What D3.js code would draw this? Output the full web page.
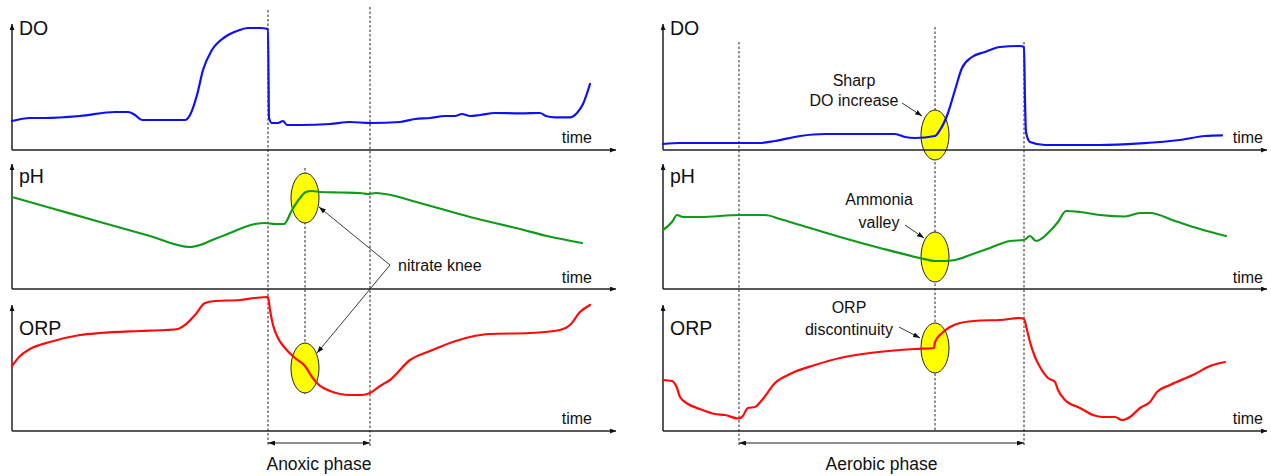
<!DOCTYPE html>
<html><head><meta charset="utf-8">
<script src="https://cdn.jsdelivr.net/npm/d3@7"></script>
<style>body{margin:0;background:#fff}svg{display:block}text{font-family:"Liberation Sans",Arial,sans-serif;fill:#111}</style>
</head><body>
<svg id="c" width="1271" height="476"></svg>
<script>
// ---- data: [time (min), value] ----
const anoxicDO = [[0,1.45],[9,1.6],[16.5,1.6],[34,1.7],[51.5,1.9],[58,1.9],[61.5,1.75],[65,1.5],[74,1.5],[86.5,1.5],[89,1.75],[92.5,2.75],[95.5,4.0],[100,5.0],[106.5,5.65],[112.5,5.95],[118,6.1],[124,6.1],[128,6.05],[128.5,1.6],[130,1.35],[133,1.35],[135.5,1.45],[137.5,1.25],[144,1.25],[159,1.3],[169,1.4],[179,1.35],[194,1.4],[201.5,1.55],[209,1.6],[216.5,1.7],[221.5,1.7],[225,1.8],[229,1.7],[234,1.75],[241.5,1.85],[254,1.83],[264,1.85],[267,1.7],[271.5,1.63],[279,1.63],[282.5,1.85],[285.5,2.3],[289,3.3]];
const anoxicPH = [[0,7.42],[22,7.295],[44,7.17],[69,7.03],[89,6.92],[94,6.94],[99,6.98],[109,7.06],[121.5,7.15],[126.5,7.16],[131.5,7.15],[136,7.15],[140,7.29],[144,7.41],[147,7.47],[150,7.48],[154,7.47],[164,7.465],[174,7.46],[178,7.45],[182,7.46],[186.5,7.45],[204,7.36],[229,7.22],[254,7.1],[267.5,7.03],[285,6.96]];
const anoxicORP = [[0,25],[4,75],[9,110],[19,145],[34,180],[44,190],[64,200],[76.5,205],[83,210],[86.5,230],[91.5,280],[96.5,340],[101.5,350],[114,355],[121.5,365],[128,370],[129,305],[130.5,230],[133,165],[136.5,115],[141.5,65],[146.5,25],[150,-30],[153,-65],[159,-100],[169,-120],[175,-120],[179,-110],[184,-75],[189,-45],[199,55],[209,100],[219,140],[229,170],[239,185],[259,190],[274,205],[279,230],[284,295],[289,330]];
const aerobicDO = [[0,0.3],[8.5,0.35],[18.5,0.35],[48.5,0.35],[56,0.45],[68.5,0.7],[81,0.8],[93.5,0.8],[116,0.8],[121,0.65],[126,0.6],[136,0.7],[138.5,1.0],[142.5,1.85],[146,3.0],[149.5,4.1],[154.5,4.65],[161,4.9],[168.5,5.15],[178.5,5.2],[180.5,5.15],[181,2.5],[181.5,0.9],[183.5,0.4],[191,0.25],[218.5,0.25],[238.5,0.33],[258.5,0.5],[271,0.7],[279.5,0.73]];
const aerobicPH = [[0,7.09],[4.5,7.17],[7,7.24],[10,7.22],[18.5,7.22],[38.5,7.24],[51,7.24],[58.5,7.2],[68.5,7.14],[88.5,7.02],[108.5,6.91],[128.5,6.81],[136,6.78],[141,6.78],[146,6.79],[153.5,6.84],[163.5,6.91],[173.5,6.98],[180.5,6.99],[183.5,7.03],[186.5,6.98],[193.5,7.08],[197.5,7.17],[201.5,7.28],[208.5,7.27],[218.5,7.24],[231,7.225],[238.5,7.26],[243.5,7.26],[256,7.18],[268.5,7.1],[281.5,7.03]];
const aerobicORP = [[0,-45],[4.5,-50],[7,-85],[8.5,-130],[12.5,-165],[18.5,-190],[26,-215],[31,-220],[37.5,-237.5],[39.5,-230],[42.5,-185],[46,-180],[49.5,-145],[56,-60],[63.5,-15],[76,30],[88.5,65],[103.5,90],[118.5,105],[126,110],[135.5,115],[136,145],[139.5,190],[143.5,220],[148.5,240],[158.5,252.5],[168.5,255],[178.5,265],[180.5,260],[182,205],[183.5,145],[186,70],[188.5,20],[192.5,-35],[196,-55],[197.5,-95],[201,-145],[208.5,-185],[215,-220],[220,-230],[226,-230],[229.5,-245],[233.5,-230],[238.5,-185],[243.5,-155],[247,-105],[253.5,-70],[266,-15],[273.5,25],[281,45]];
// phase boundaries and markers (time, min)
const anoxicPhase = [128, 179];
const anoxicKnee = 146.5;
const aerobicPhase = [38, 180.5];
const aerobicMark = 136;
// highlighted points
const anoxicKneePH = 7.41, anoxicKneeORP = 15;
const aerobicMarkDO = 0.75, aerobicMarkPH = 6.82, aerobicMarkORP = 115;
const rowLabels = ["DO", "pH", "ORP"];
const axisLabel = "time";
const phaseLabels = ["Anoxic phase", "Aerobic phase"];

// ---- layout ----
const svg = d3.select("#c");
const defs = svg.append("defs");
function marker(id, len, wid) {
  defs.append("marker").attr("id", id).attr("markerUnits", "userSpaceOnUse")
    .attr("viewBox", `0 ${-wid/2} ${len} ${wid}`).attr("refX", len).attr("refY", 0)
    .attr("markerWidth", len).attr("markerHeight", wid).attr("orient", "auto-start-reverse")
    .append("path").attr("d", `M0,${-wid/2}L${len},0L0,${wid/2}Z`).attr("fill", "#111");
}
marker("ax", 6, 5);
marker("an", 7, 5);

const xL = d3.scaleLinear().domain([0, 302]).range([12, 616]);
const xR = d3.scaleLinear().domain([0, 302]).range([663, 1267]);
const yDO = d3.scaleLinear().domain([0, 6.3]).range([150, 24]);
const yPH = d3.scaleLinear().domain([6.5, 7.76]).range([289, 163]);
const yORP = d3.scaleLinear().domain([-300, 330]).range([431, 305]);
const rows = [
  {y: yDO, top: 24, lab: 35, tlab: 143},
  {y: yPH, top: 164, lab: 183, tlab: 283},
  {y: yORP, top: 305, lab: 335, tlab: 424}
];
const sides = [{x: xL, x0: 12, x1: 616, tx: 592}, {x: xR, x0: 663, x1: 1267, tx: 1263}];

// dashed guide lines
const dashed = svg.append("g").attr("stroke", "#222").attr("stroke-width", 1).attr("stroke-dasharray", "2.5,2");
function vline(x, y1, y2) { dashed.append("line").attr("x1", x).attr("x2", x).attr("y1", y1).attr("y2", y2); }
vline(xL(anoxicPhase[0]), 10, 445);
vline(xL(anoxicPhase[1]), 7, 446);
vline(xR(aerobicPhase[0]), 42, 446);
vline(xR(aerobicPhase[1]), 42, 447);

// ellipses
const ell = svg.append("g").attr("fill", "#ffff00").attr("stroke", "#222").attr("stroke-width", 1);
function ellipse(cx, cy) { ell.append("ellipse").attr("cx", cx).attr("cy", cy).attr("rx", 14).attr("ry", 25); }
ellipse(xL(anoxicKnee), yPH(anoxicKneePH));
ellipse(xL(anoxicKnee), yORP(anoxicKneeORP));
ellipse(xR(aerobicMark), yDO(aerobicMarkDO));
ellipse(xR(aerobicMark), yPH(aerobicMarkPH));
ellipse(xR(aerobicMark), yORP(aerobicMarkORP));

vline(xL(anoxicKnee), 168, 394);
vline(xR(aerobicMark), 27, 430);

// axes
const axes = svg.append("g").attr("stroke", "#222").attr("stroke-width", 1.5).attr("fill", "none");
sides.forEach(s => rows.forEach(r => {
  const b = r.y.range()[0];
  axes.append("line").attr("x1", s.x0).attr("x2", s.x0).attr("y1", b).attr("y2", r.top).attr("marker-end", "url(#ax)");
  axes.append("line").attr("x1", s.x0).attr("x2", s.x1).attr("y1", b).attr("y2", b).attr("marker-end", "url(#ax)");
}));

// labels
const texts = svg.append("g");
sides.forEach((s, si) => rows.forEach((r, ri) => {
  texts.append("text").attr("x", s.x0 + 7).attr("y", r.lab).attr("font-size", 19.5).text(rowLabels[ri]);
  texts.append("text").attr("x", s.tx).attr("y", r.tlab).attr("text-anchor", "end").attr("font-size", 16).text(axisLabel);
}));

// curves
const colors = ["#1010f5", "#11991a", "#ff0a0a"];
const series = [[anoxicDO, anoxicPH, anoxicORP], [aerobicDO, aerobicPH, aerobicORP]];
sides.forEach((s, si) => rows.forEach((r, ri) => {
  const line = d3.line().x(d => s.x(d[0])).y(d => r.y(d[1])).curve(d3.curveMonotoneX);
  svg.append("path").datum(series[si][ri]).attr("d", line).attr("fill", "none")
    .attr("stroke", colors[ri]).attr("stroke-width", 2.2).attr("stroke-linejoin", "round").attr("stroke-linecap", "round");
}));

// phase arrows
const pa = svg.append("g").attr("stroke", "#222").attr("stroke-width", 1);
[[xL, anoxicPhase], [xR, aerobicPhase]].forEach(([x, p], i) => {
  pa.append("line").attr("x1", x(p[0])).attr("x2", x(p[1])).attr("y1", 443).attr("y2", 443)
    .attr("marker-start", "url(#an)").attr("marker-end", "url(#an)");
  texts.append("text").attr("x", (x(p[0]) + x(p[1])) / 2).attr("y", 470).attr("text-anchor", "middle")
    .attr("font-size", 17.5).text(phaseLabels[i]);
});

// annotations
const an = svg.append("g").attr("stroke", "#222").attr("stroke-width", 0.9).attr("fill", "none");
function arrow(x1, y1, x2, y2) { an.append("line").attr("x1", x1).attr("y1", y1).attr("x2", x2).attr("y2", y2).attr("marker-end", "url(#an)"); }
arrow(390, 265, 319, 207);
arrow(390, 265, 317, 353);
texts.append("text").attr("x", 398).attr("y", 271).attr("font-size", 16).text("nitrate knee");

arrow(902, 103, 922, 116);
texts.append("text").attr("x", 854).attr("y", 86).attr("text-anchor", "middle").attr("font-size", 16).text("Sharp");
texts.append("text").attr("x", 854).attr("y", 106).attr("text-anchor", "middle").attr("font-size", 16).text("DO increase");

arrow(905, 225, 924, 238);
texts.append("text").attr("x", 879).attr("y", 205).attr("text-anchor", "middle").attr("font-size", 16).text("Ammonia");
texts.append("text").attr("x", 879).attr("y", 228).attr("text-anchor", "middle").attr("font-size", 16).text("valley");

arrow(899, 327, 920, 338);
texts.append("text").attr("x", 849).attr("y", 313).attr("text-anchor", "middle").attr("font-size", 16).text("ORP");
texts.append("text").attr("x", 849).attr("y", 335).attr("text-anchor", "middle").attr("font-size", 16).text("discontinuity");
</script>
</body></html>
